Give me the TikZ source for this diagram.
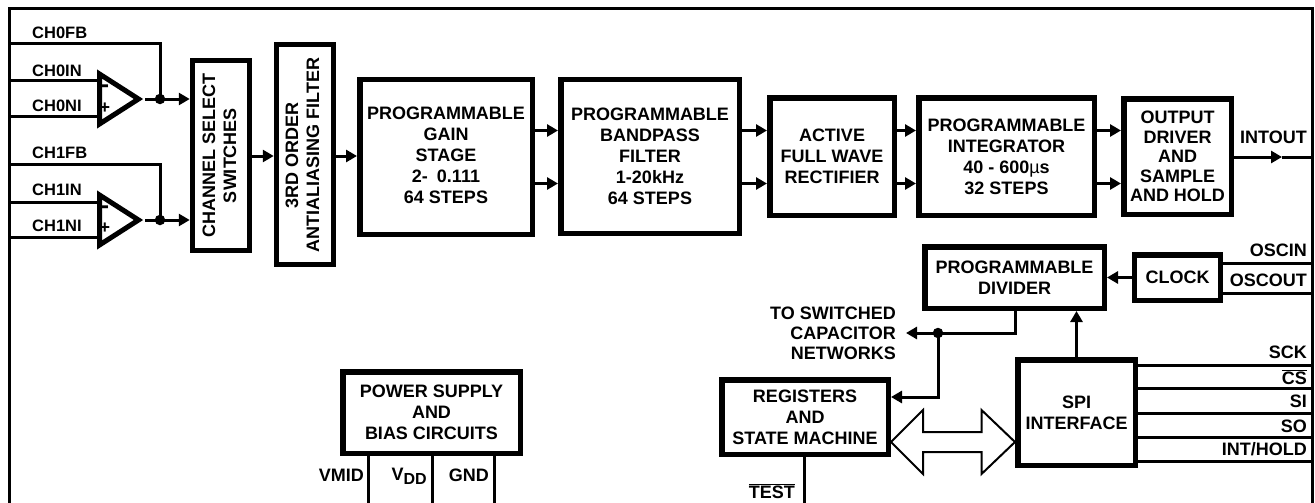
\documentclass[tikz,border=0pt]{standalone}
\usepackage{fontspec}
\setmainfont{Liberation Sans}
\usetikzlibrary{positioning,shapes.geometric,arrows.meta}
\tikzset{
    blockbox/.style={draw, rectangle, line width=5.5pt, inner sep=0pt, align=center,
        font=\bfseries\fontsize{18}{21}\selectfont},
    blocktext/.style={inner sep=0pt, align=center, font=\bfseries\fontsize{18}{21}\selectfont},
    ampbox/.style={draw, isosceles triangle, isosceles triangle stretches, line width=5pt,
        inner sep=0pt, minimum width=50pt, minimum height=39pt, anchor=lower side},
    ampplus/.style={inner sep=0pt, font=\bfseries\fontsize{18}{20}\selectfont},
    ampminus/.style={inner sep=0pt, font=\bfseries\fontsize{24}{26}\selectfont},
    wire/.style={line width=3pt},
    sigarrow/.style={line width=3pt, -{Triangle[length=11pt,width=12pt]}},
    chlabel/.style={anchor=west, inner sep=0pt, font=\bfseries\fontsize{16.5}{19}\selectfont},
    pinlabel/.style={anchor=east, inner sep=0pt, font=\bfseries\fontsize{18}{21}\selectfont},
    dotnode/.style={circle, fill, inner sep=0pt, minimum size=10.5pt},
}
\begin{document}
\begin{tikzpicture}[x=1pt, y=-1pt]
    \useasboundingbox (0,0) rectangle (1315,503);

    % outline, open at the bottom
    \coordinate (framel) at (9,503);
    \coordinate (framer) at (1312,503);
    \coordinate (bottom) at (0,503);
    \draw[wire, miter limit=4] (framel) -- (9,9) -- (1312,9) -- (framer);

    % signal path
    \node[blockbox, minimum width=57pt, minimum height=190pt] (chan) at (221,155.5) {};
    \node[blocktext, rotate=90] (chantext) at (219.5,155.5) {CHANNEL SELECT\\SWITCHES};
    \node[blockbox, minimum width=57pt, minimum height=220pt] (filt) at (305,154.5) {};
    \node[blocktext, rotate=90] (filttext) at (302.5,155) {3RD ORDER\\ANTIALIASING FILTER};
    \node[blockbox, minimum width=172.5pt, minimum height=154.5pt] (gain) at (446,157) {};
    \node[blocktext] (gaintext) at (446,155)
        {PROGRAMMABLE\\GAIN\\STAGE\\2-\hspace{9pt}0.111\hspace*{45pt}\\64 STEPS};
    \node[blockbox, minimum width=178.5pt, minimum height=153.5pt] (band) at (650,156.5)
        {PROGRAMMABLE\\BANDPASS\\FILTER\\1-20kHz\\64 STEPS};
    \node[blockbox, minimum width=124.5pt, minimum height=117.5pt] (rect) at (832,156.5)
        {ACTIVE\\FULL WAVE\\RECTIFIER};
    \node[blockbox, minimum width=175.5pt, minimum height=117.5pt] (intg) at (1006.5,156.5)
        {PROGRAMMABLE\\INTEGRATOR\\40 - 600{\mdseries µ}s\\32 STEPS};
    \node[blockbox, minimum width=107.5pt, minimum height=115.5pt, font=\bfseries\fontsize{18}{19.5}\selectfont] (outp) at (1177.5,156.5)
        {OUTPUT\\DRIVER\\AND\\SAMPLE\\AND HOLD};

    % lower blocks
    \node[blockbox, minimum width=179.5pt, minimum height=61.5pt] (divd) at (1014.5,277.5)
        {PROGRAMMABLE\\DIVIDER};
    \node[blockbox, minimum width=86pt, minimum height=45.5pt] (clck) at (1177.5,277.5) {CLOCK};
    \node[blockbox, minimum width=166.5pt, minimum height=74.5pt] (regs) at (805,417)
        {REGISTERS\\AND\\STATE MACHINE};
    \node[blockbox, minimum width=117.5pt, minimum height=105.5pt] (spi) at (1076.5,412.5)
        {SPI\\INTERFACE};
    \node[blockbox, minimum width=177.5pt, minimum height=81.5pt] (pwr) at (431.5,412.5)
        {POWER SUPPLY\\AND\\BIAS CIRCUITS};

    % amplifiers
    \node[ampbox] (ampa) at (97,99) {};
    \node[ampbox] (ampb) at (97,220) {};
    \node[ampminus] (ampam) at (105,89) {-};
    \node[ampplus] (ampap) at (105,108) {+};
    \node[ampminus] (ampbm) at (105,210) {-};
    \node[ampplus] (ampbp) at (105,228) {+};
    \node[dotnode] (dota) at (160,99) {};
    \node[dotnode] (dotb) at (160,220) {};

    \node[chlabel] (lfba) at (32,33) {CH0FB};
    \node[chlabel] (lina) at (32,71) {CH0IN};
    \node[chlabel] (lnia) at (32,106) {CH0NI};
    \node[chlabel] (lfbb) at (32,153) {CH1FB};
    \node[chlabel] (linb) at (32,190) {CH1IN};
    \node[chlabel] (lnib) at (32,226) {CH1NI};

    % inputs
    \draw[wire] (framel |- 0,43.5) -| (dota.center);
    \draw[wire] (framel |- 0,164) -| (dotb.center);
    \draw[wire] (framel |- 0,81) -- (ampa.lower side |- 0,81);
    \draw[wire] (framel |- 0,116) -- (ampa.lower side |- 0,116);
    \draw[wire] (framel |- 0,202) -- (ampb.lower side |- 0,202);
    \draw[wire] (framel |- 0,237) -- (ampb.lower side |- 0,237);
    \draw[wire] (ampa.apex) -- (dota.center);
    \draw[wire] (ampb.apex) -- (dotb.center);
    \draw[sigarrow] (dota.center) -- (chan.west |- dota);
    \draw[sigarrow] (dotb.center) -- (chan.west |- dotb);

    % left to right
    \coordinate (rowm) at (0,156);
    \coordinate (rowa) at (0,130.5);
    \coordinate (rowb) at (0,183.5);
    \draw[sigarrow] (chan.east |- rowm) -- (filt.west |- rowm);
    \draw[sigarrow] (filt.east |- rowm) -- (gain.west |- rowm);
    \draw[sigarrow] (gain.east |- rowa) -- (band.west |- rowa);
    \draw[sigarrow] (gain.east |- rowb) -- (band.west |- rowb);
    \draw[sigarrow] (band.east |- rowa) -- (rect.west |- rowa);
    \draw[sigarrow] (band.east |- rowb) -- (rect.west |- rowb);
    \draw[sigarrow] (rect.east |- rowa) -- (intg.west |- rowa);
    \draw[sigarrow] (rect.east |- rowb) -- (intg.west |- rowb);
    \draw[sigarrow] (intg.east |- rowa) -- (outp.west |- rowa);
    \draw[sigarrow] (intg.east |- rowb) -- (outp.west |- rowb);

    \coordinate (outtip) at (1282,157);
    \draw[sigarrow] (outp.east |- outtip) -- (outtip);
    \draw[wire] (outtip) -- (framer |- outtip);
    \node[pinlabel] (lout) at (1307,137) {INTOUT};

    % clock
    \draw[sigarrow] (clck) -- (divd);
    \draw[wire] (clck.east |- 0,263) -- (framer |- 0,263);
    \draw[wire] (clck.east |- 0,293) -- (framer |- 0,293);
    \node[pinlabel] (losi) at (1307,250) {OSCIN};
    \node[pinlabel] (loso) at (1307,280) {OSCOUT};

    % divider outputs
    \coordinate (nets) at (906,333);
    \node[dotnode] (dotc) at (938,333) {};
    \draw[wire] (divd.south -| 1015,0) |- (dotc.center);
    \draw[sigarrow] (dotc.center) -- (nets);
    \draw[sigarrow] (dotc.center) |- (regs.east |- 0,397);
    \node[anchor=east, inner sep=0pt, align=right, font=\bfseries\fontsize{18}{20}\selectfont] (lnet) at (896,333)
        {TO SWITCHED\\CAPACITOR\\NETWORKS};
    \draw[sigarrow] (spi.north) -- (spi.north |- divd.south);

    % data bus
    \coordinate (busrow) at (0,442);
    \draw[line width=2pt, miter limit=10] (regs.east |- busrow) -- (923,410) -- (923,432) -- (981.5,432) -- (981.5,410)
        -- (spi.west |- busrow) -- (981.5,474) -- (981.5,452) -- (923,452) -- (923,474) -- cycle;

    % spi pins
    \foreach \py in {365,388,413,437,461}
        \draw[wire] (spi.east |- 0,\py) -- (framer |- 0,\py);
    \node[pinlabel] (lsck) at (1307,352) {SCK};
    \node[pinlabel] (lcs) at (1307,377) {$\overline{\hbox{CS}}$};
    \node[pinlabel] (lsi) at (1307,401) {SI};
    \node[pinlabel] (lso) at (1307,426) {SO};
    \node[pinlabel] (lint) at (1307,449) {INT/HOLD};

    % bottom pins
    \draw[wire] (pwr.south -| 368,0) -- (bottom -| 368,0);
    \draw[wire] (pwr.south -| 432,0) -- (bottom -| 432,0);
    \draw[wire] (pwr.south -| 494,0) -- (bottom -| 494,0);
    \draw[wire] (regs.south -| 804,0) -- (bottom -| 804,0);
    \node[pinlabel] (lvmd) at (364,475) {VMID};
    \node[pinlabel] (lvdd) at (427,476) {V\raisebox{-4pt}{\fontsize{16}{18}\selectfont DD}};
    \node[pinlabel] (lgnd) at (489,475) {GND};
    \node[pinlabel] (ltst) at (795,491) {$\overline{\hbox{TEST}}$};
\end{tikzpicture}
\end{document}
